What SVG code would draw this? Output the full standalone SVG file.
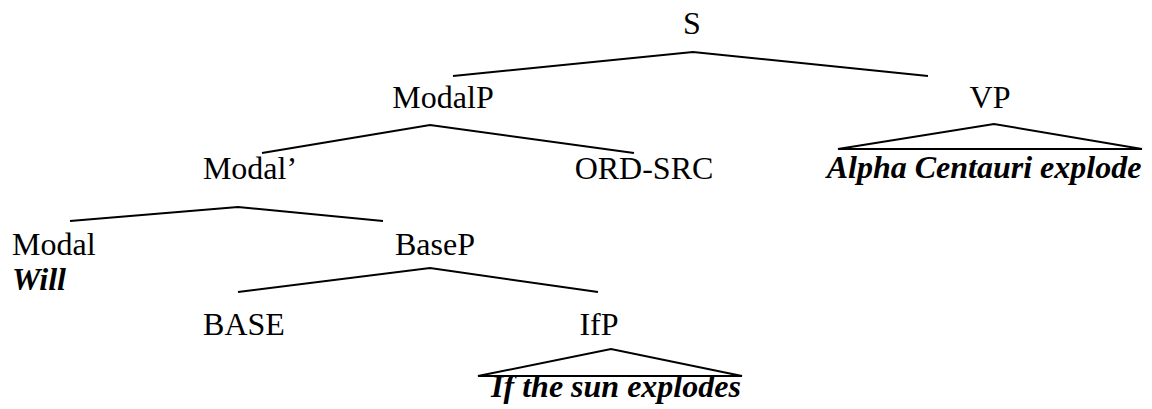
<svg xmlns="http://www.w3.org/2000/svg" width="1152" height="409" viewBox="0 0 1152 409">
  <style>
    text { font-family: "Liberation Serif", "Times New Roman", serif; font-size: 32px; fill: #000; }
    .mid { text-anchor: middle; }
    .word { font-weight: bold; font-style: italic; }
    .edge { stroke: #000; stroke-width: 2; fill: none; stroke-linejoin: miter; }
  </style>
  <rect width="1152" height="409" fill="#fff"/>

  <!-- branches and triangles -->
  <g id="connectors">
    <polyline class="edge" points="453,76 693,52 928,76"/>
    <polyline class="edge" points="262,153 430,125 634,153"/>
    <polygon class="edge" points="838,149 994,124 1142,149"/>
    <polyline class="edge" points="70,221 238,207 383,221"/>
    <polyline class="edge" points="238,292 430,268 598,292"/>
    <polygon class="edge" points="478,376 611,349 742,376"/>
  </g>

  <g id="node-S"><text class="mid" x="692" y="34">S</text></g>
  <g id="node-ModalP"><text class="mid" x="443" y="108">ModalP</text></g>
  <g id="node-VP"><text class="mid" x="990" y="108">VP</text></g>
  <g id="node-VP-yield"><text class="word mid" x="984" y="178">Alpha Centauri explode</text></g>
  <g id="node-ModalBar"><text class="mid" x="250" y="179">Modal’</text></g>
  <g id="node-ORD-SRC"><text class="mid" x="644" y="179">ORD-SRC</text></g>
  <g id="node-Modal">
    <text x="12" y="255">Modal</text>
    <text class="word" x="12" y="290">Will</text>
  </g>
  <g id="node-BaseP"><text class="mid" x="435" y="255">BaseP</text></g>
  <g id="node-BASE"><text class="mid" x="244" y="335">BASE</text></g>
  <g id="node-IfP"><text class="mid" x="599" y="335">IfP</text></g>
  <g id="node-IfP-yield"><text class="word mid" x="616" y="397">If the sun explodes</text></g>
</svg>
